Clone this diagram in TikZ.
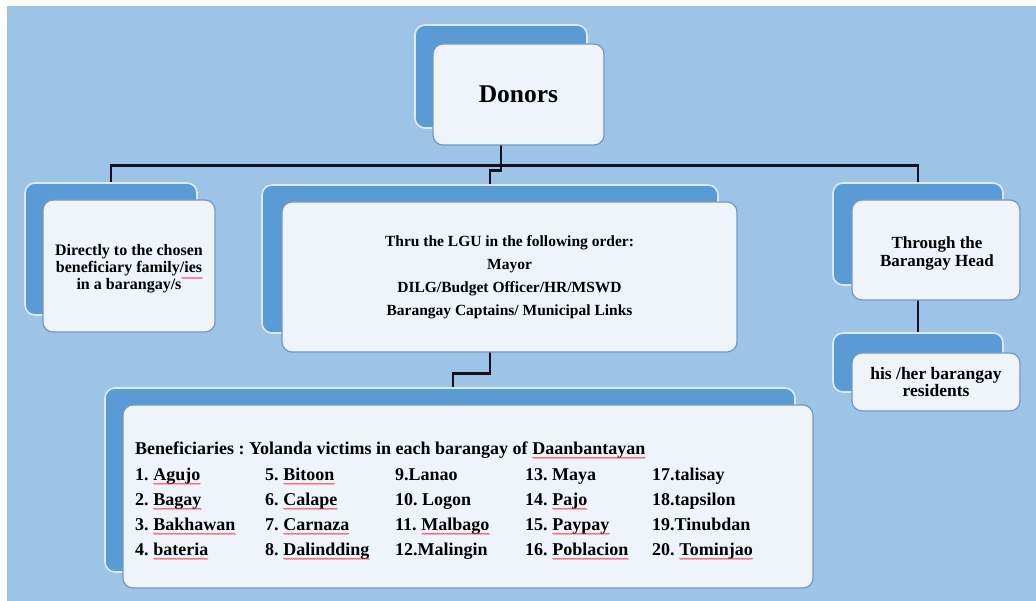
\documentclass[tikz,border=0pt]{standalone}
\usepackage{fontspec}
\setmainfont{Liberation Serif}
\usetikzlibrary{decorations.pathmorphing}
\frenchspacing
\definecolor{bg}{HTML}{9DC3E6}
\definecolor{backblue}{HTML}{5B9BD5}
\definecolor{backedge}{HTML}{DCEBF8}
\definecolor{frontfill}{HTML}{EFF4FB}
\definecolor{frontedge}{HTML}{7397C4}
\definecolor{connc}{HTML}{111122}
\definecolor{squig}{HTML}{E0303A}
\tikzset{
  squiggle/.style={draw=squig, line width=0.45pt, decorate, decoration={zigzag,amplitude=0.7pt,segment length=2pt}},
  backbox/.style={fill=backblue, draw=backedge, line width=1.6pt, rounded corners=10pt, inner sep=0pt},
  frontbox/.style={fill=frontfill, draw=frontedge, line width=1.2pt, rounded corners=10pt, inner sep=0pt, align=center, font=\bfseries},
  conn/.style={draw=connc, line width=2.7pt},
  item/.style={anchor=base west, inner sep=0pt, font=\bfseries\fontsize{18}{20}\selectfont}
}
\newcommand\sqw[1]{\tikz[baseline=(w.base)]{\node[inner sep=0pt,outer sep=0pt,draw=none,fill=none,rounded corners=0pt,minimum width=0pt,minimum height=0pt,anchor=base](w){#1};\draw[squiggle]([yshift=-3.8pt]w.base west)--([yshift=-3.8pt]w.base east);}}
\begin{document}
\begin{tikzpicture}[x=1pt,y=-1pt]
\useasboundingbox (0,0) rectangle (1036,601);
\fill[bg] (7,6) rectangle (1036,601);

\coordinate (dbc) at (501,76.5);
\coordinate (lbc) at (111,249);
\coordinate (mbc) at (490,259);
\coordinate (rbc) at (918,234);
\coordinate (sbc) at (918,362.5);
\coordinate (bbc) at (450,480);

\node[backbox, minimum width=172pt, minimum height=103pt] (db) at (dbc) {};
\node[backbox, minimum width=172pt, minimum height=132pt] (lb) at (lbc) {};
\node[backbox, minimum width=456pt, minimum height=148pt] (mb) at (mbc) {};
\node[backbox, minimum width=170pt, minimum height=102pt] (rb) at (rbc) {};
\node[backbox, minimum width=170pt, minimum height=59pt] (sb) at (sbc) {};
\node[backbox, minimum width=690pt, minimum height=184pt] (bb) at (bbc) {};

\draw[conn] (lb.north) -- ++(0,-17) -| (rb.north);
\draw[conn] (db.south) -- ++(0,42) -| (mb.north);
\draw[conn] (mb.south) -- ++(0,40) -| ([xshift=3pt]bb.north);
\draw[conn] (rb.south) -- (sb.north);

\node[frontbox, minimum width=171pt, minimum height=101pt, font=\bfseries\fontsize{25.5}{28}\selectfont] (df) at (518.5,94.5) {Donors};
\node[frontbox, minimum width=172pt, minimum height=132pt] (lf) at (129,266) {};
\node[align=center, font=\bfseries\fontsize{16}{17}\selectfont, inner sep=0pt] (lt) at (129,269) {Directly to the chosen\\beneficiary family/ies\\in a barangay/s};
\draw[squiggle] (181.5,278) -- (203,278);
\node[frontbox, minimum width=455pt, minimum height=150pt, font=\bfseries\fontsize{15.5}{23}\selectfont] (mf) at (509.5,277) {Thru the LGU in the following order:\\Mayor\\DILG/Budget Officer/HR/MSWD\\Barangay Captains/ Municipal Links};
\node[frontbox, minimum width=168pt, minimum height=100pt] (rf) at (936,250) {};
\node[align=center, font=\bfseries\fontsize{17}{18}\selectfont, inner sep=0pt] (rt) at (937,253) {Through the\\Barangay Head};
\node[frontbox, minimum width=168pt, minimum height=58pt, font=\bfseries\fontsize{17.5}{17}\selectfont] (sf) at (936,382) {his /her barangay\\residents};
\node[frontbox, minimum width=690pt, minimum height=183pt] (bf) at (468,496.5) {};

\node[item] (title) at (135,454) {Beneficiaries : Yolanda victims in each barangay of \sqw{Daanbantayan}};
\node[item] (i1) at (135,480) {1. \sqw{Agujo}};
\node[item] (i2) at (135,505) {2. \sqw{Bagay}};
\node[item] (i3) at (135,530) {3. \sqw{Bakhawan}};
\node[item] (i4) at (135,555) {4. \sqw{bateria}};
\node[item] (i5) at (265,480) {5. \sqw{Bitoon}};
\node[item] (i6) at (265,505) {6. \sqw{Calape}};
\node[item] (i7) at (265,530) {7. \sqw{Carnaza}};
\node[item] (i8) at (265,555) {8. \sqw{Dalindding}};
\node[item] (i9) at (395,480) {9.Lanao};
\node[item] (i10) at (395,505) {10. Logon};
\node[item] (i11) at (395,530) {11. \sqw{Malbago}};
\node[item] (i12) at (395,555) {12.Malingin};
\node[item] (i13) at (525,480) {13. Maya};
\node[item] (i14) at (525,505) {14. \sqw{Pajo}};
\node[item] (i15) at (525,530) {15. \sqw{Paypay}};
\node[item] (i16) at (525,555) {16. \sqw{Poblacion}};
\node[item] (i17) at (652,480) {17.talisay};
\node[item] (i18) at (652,505) {18.tapsilon};
\node[item] (i19) at (652,530) {19.Tinubdan};
\node[item] (i20) at (652,555) {20. \sqw{Tominjao}};
\end{tikzpicture}
\end{document}
